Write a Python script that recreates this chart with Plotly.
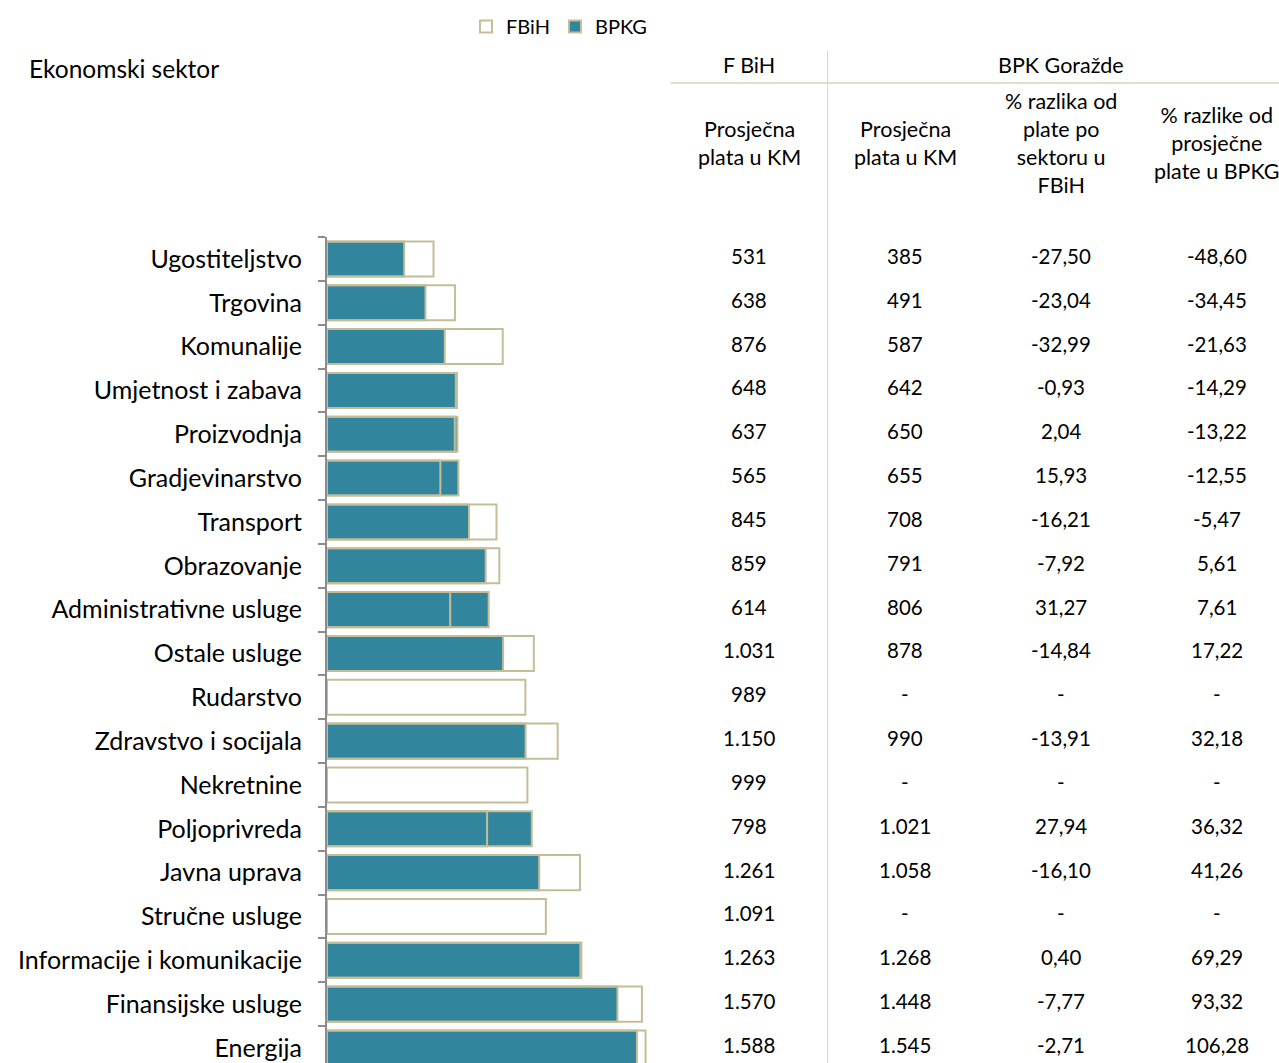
import plotly.graph_objects as go

W, H = 1279, 1063

sectors = ["Ugostiteljstvo", "Trgovina", "Komunalije", "Umjetnost i zabava", "Proizvodnja",
           "Gradjevinarstvo", "Transport", "Obrazovanje", "Administrativne usluge", "Ostale usluge",
           "Rudarstvo", "Zdravstvo i socijala", "Nekretnine", "Poljoprivreda", "Javna uprava",
           "Stručne usluge", "Informacije i komunikacije", "Finansijske usluge", "Energija"]
fbih = [531, 638, 876, 648, 637, 565, 845, 859, 614, 1031, 989, 1150, 999, 798, 1261, 1091, 1263, 1570, 1588]
bpkg = [385, 491, 587, 642, 650, 655, 708, 791, 806, 878, None, 990, None, 1021, 1058, None, 1268, 1448, 1545]
pct_sector = [-27.50, -23.04, -32.99, -0.93, 2.04, 15.93, -16.21, -7.92, 31.27, -14.84, None, -13.91, None,
              27.94, -16.10, None, 0.40, -7.77, -2.71]
pct_avg = [-48.60, -34.45, -21.63, -14.29, -13.22, -12.55, -5.47, 5.61, 7.61, 17.22, None, 32.18, None,
           36.32, 41.26, None, 69.29, 93.32, 106.28]

TEAL = "#31859C"
TAN = "#C4BD97"
FONT = "Lato"


def fmt_int(v):
    if v is None:
        return "-"
    return f"{v:,}".replace(",", ".")


def fmt_pct(v):
    if v is None:
        return "-"
    return f"{v:.2f}".replace(".", ",")


fig = go.Figure()
fig.add_trace(go.Bar(
    y=sectors, x=bpkg, orientation="h", name="BPKG",
    marker=dict(color=TEAL, line=dict(color=TAN, width=2)),
    width=0.8, legendrank=2,
))
fig.add_trace(go.Bar(
    y=sectors, x=fbih, orientation="h", name="FBiH",
    marker=dict(color="rgba(255,255,255,0)", line=dict(color=TAN, width=2)),
    width=0.8, legendrank=1,
))

def px(x):
    return x / W

def py(y):
    return 1 - y / H

top_px = 237.0
row0 = 259.0
step = 43.83
bottom_val = (H - row0) / step

fig.update_layout(
    width=W, height=H,
    margin=dict(l=0, r=0, t=0, b=0),
    paper_bgcolor="white", plot_bgcolor="white",
    barmode="overlay",
    font=dict(family=FONT, color="#000000", size=20),
    showlegend=True,
    legend=dict(orientation="h", x=px(466), y=py(7), xanchor="left", yanchor="top",
                font=dict(size=20, family=FONT), traceorder="normal",
                itemwidth=30, bgcolor="rgba(0,0,0,0)"),
    xaxis=dict(domain=[px(327), px(660)], range=[0, (660 - 327) / 0.2006],
               showgrid=False, zeroline=False, showticklabels=False, showline=False, ticks=""),
    yaxis=dict(domain=[0, py(top_px)], range=[bottom_val, -0.5], type="category",
               categoryorder="array", categoryarray=sectors,
               showgrid=False, zeroline=False, showline=True, linecolor="#8C8C8C", linewidth=2,
               ticks="outside", ticklen=7, tickcolor="#8C8C8C", tickwidth=2, tickson="boundaries",
               tickfont=dict(size=25, family=FONT, color="#000000"), ticklabelstandoff=18),
)

ann = []
ann.append(dict(x=px(27), y=py(68), xref="paper", yref="paper", text="Ekonomski sektor",
                showarrow=False, xanchor="left", yanchor="middle", font=dict(size=24.5)))
ann.append(dict(x=px(749), y=py(65), xref="paper", yref="paper", text="F BiH",
                showarrow=False, xanchor="center", yanchor="middle", font=dict(size=21.5)))
ann.append(dict(x=px(1061), y=py(65), xref="paper", yref="paper", text="BPK Goražde",
                showarrow=False, xanchor="center", yanchor="middle", font=dict(size=21.5)))
heads = [(749, "Prosječna<br>plata u KM"), (905, "Prosječna<br>plata u KM"),
         (1061, "% razlika od<br>plate po<br>sektoru u<br>FBiH"),
         (1217, "% razlike od<br>prosječne<br>plate u BPKG")]
for xc, t in heads:
    ann.append(dict(x=px(xc), y=py(143), xref="paper", yref="paper", text=t,
                    showarrow=False, xanchor="center", yanchor="middle", align="center",
                    font=dict(size=21.5)))

cols = [(749, [fmt_int(v) for v in fbih]), (905, [fmt_int(v) for v in bpkg]),
        (1061, [fmt_pct(v) for v in pct_sector]), (1217, [fmt_pct(v) for v in pct_avg])]
for xc, vals in cols:
    for s, t in zip(sectors, vals):
        ann.append(dict(x=px(xc), y=s, xref="paper", yref="y", text=t, showarrow=False,
                        xanchor="center", yanchor="middle", yshift=3, font=dict(size=20.5)))
fig.update_layout(annotations=ann)

fig.add_shape(type="line", xref="paper", yref="paper", x0=px(671), x1=1, y0=py(83), y1=py(83),
              line=dict(color=TAN, width=1))
fig.add_shape(type="line", xref="paper", yref="paper", x0=px(827.5), x1=px(827.5), y0=py(51), y1=0,
              line=dict(color="#DAD5BE", width=1))

fig.write_html("out.html", config={"displayModeBar": False},
               post_script="document.body.style.margin='0';document.body.style.overflow='hidden';")
